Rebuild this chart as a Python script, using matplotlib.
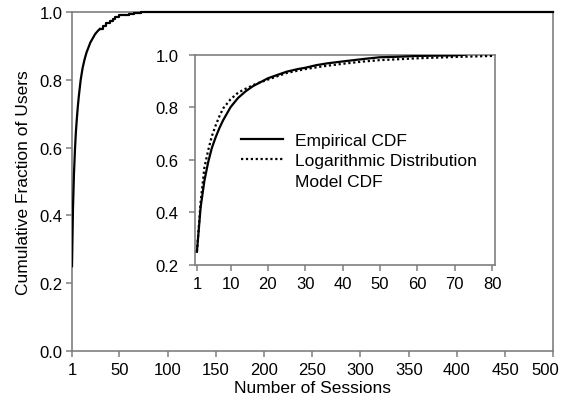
import matplotlib
matplotlib.use("Agg")
import matplotlib.pyplot as plt
import matplotlib.transforms as mtransforms
from matplotlib.lines import Line2D

# empirical CDF of sessions per user
emp_sessions = [1, 2, 3, 4, 5, 6, 7, 8, 9, 10, 12, 14, 16, 18, 20, 22, 25, 28, 30,
                33, 36, 40, 43, 46, 50, 55, 60, 65, 70, 73, 500]
emp_cdf = [0.25, 0.42, 0.52, 0.59, 0.645, 0.685, 0.72, 0.75, 0.775, 0.80, 0.835,
           0.86, 0.88, 0.895, 0.91, 0.92, 0.935, 0.945, 0.95, 0.96, 0.967, 0.974,
           0.979, 0.984, 0.99, 0.992, 0.995, 0.996, 0.997, 1.0, 1.0]

# logarithmic distribution model CDF
model_sessions = [1, 2, 3, 4, 5, 6, 7, 8, 10, 12, 14, 17, 20, 25, 30, 35, 40, 45,
                  50, 60, 70, 80]
model_cdf = [0.25, 0.44, 0.57, 0.635, 0.69, 0.73, 0.765, 0.795, 0.83, 0.855, 0.87,
             0.89, 0.905, 0.93, 0.945, 0.956, 0.965, 0.973, 0.979, 0.986, 0.991,
             0.995]

main_xticks = [1, 50, 100, 150, 200, 250, 300, 350, 400, 450, 500]
inset_xticks = [1, 10, 20, 30, 40, 50, 60, 70, 80]
yticks = [0.0, 0.2, 0.4, 0.6, 0.8, 1.0]
inset_yticks = [0.2, 0.4, 0.6, 0.8, 1.0]

plt.rcParams['font.family'] = ['Liberation Sans', 'DejaVu Sans']
fs = 12.5      # axis labels / legend
tfs = 12       # tick labels

gray = '#7f7f7f'


def style_axes(ax, ypad, xpad):
    for s in ax.spines.values():
        s.set_color(gray)
        s.set_linewidth(1.2)
    ax.tick_params(direction='out', length=4, width=1.1, color=gray,
                   labelcolor='black', labelsize=tfs)
    ax.tick_params(axis='y', pad=ypad)
    ax.tick_params(axis='x', pad=xpad)


fig = plt.figure(figsize=(5.67, 4.06), dpi=100)

ax = fig.add_axes([0.127, 0.133, 0.849, 0.835])
# smooth head, stepped tail like the original plot
split = emp_sessions.index(30)
ax.plot(emp_sessions[:split + 1], emp_cdf[:split + 1], color='black', lw=1.6,
        zorder=3)
ax.plot(emp_sessions[split:], emp_cdf[split:], color='black', lw=1.6,
        drawstyle='steps-post', zorder=3, clip_on=False)
ax.set_xlim(1, 500)
ax.set_ylim(0, 1)
ax.set_xticks(main_xticks)
ax.set_yticks(yticks)
ax.set_yticklabels(['%.1f' % v for v in yticks])
ax.set_xlabel('Number of Sessions', fontsize=fs, labelpad=2)
ax.set_ylabel('Cumulative Fraction of Users', fontsize=fs, labelpad=6)
style_axes(ax, 3, 4)

# last label sits a bit left so it stays inside the figure
last = ax.get_xticklabels()[-1]
last.set_transform(last.get_transform() +
                   mtransforms.ScaledTranslation(-6 / 72, 0, fig.dpi_scale_trans))

ins = fig.add_axes([0.344, 0.345, 0.529, 0.518])
ins.plot(emp_sessions[:-1], emp_cdf[:-1], color='black', lw=1.6, zorder=3)
ins.plot(model_sessions, model_cdf, color='black', lw=1.6, ls=(0, (1, 1.2)),
         zorder=3)
ins.set_xlim(0.5, 80.8)
ins.set_ylim(0.2, 1.0)
ins.set_xticks(inset_xticks)
ins.set_yticks(inset_yticks)
ins.set_yticklabels(['%.1f' % v for v in inset_yticks])
style_axes(ins, 8, 4)

handles = [Line2D([], [], color='black', lw=1.6),
           Line2D([], [], color='black', lw=1.6, ls=(0, (1, 1.2))),
           Line2D([], [], color='none')]
labels = ['Empirical CDF', 'Logarithmic Distribution', 'Model CDF']
ins.legend(handles, labels, loc='upper left', bbox_to_anchor=(0.125, 0.67),
           frameon=False, borderpad=0, handlelength=2.4, handletextpad=0.7,
           labelspacing=0.3, fontsize=fs)

fig.savefig('out.png', dpi=100)
